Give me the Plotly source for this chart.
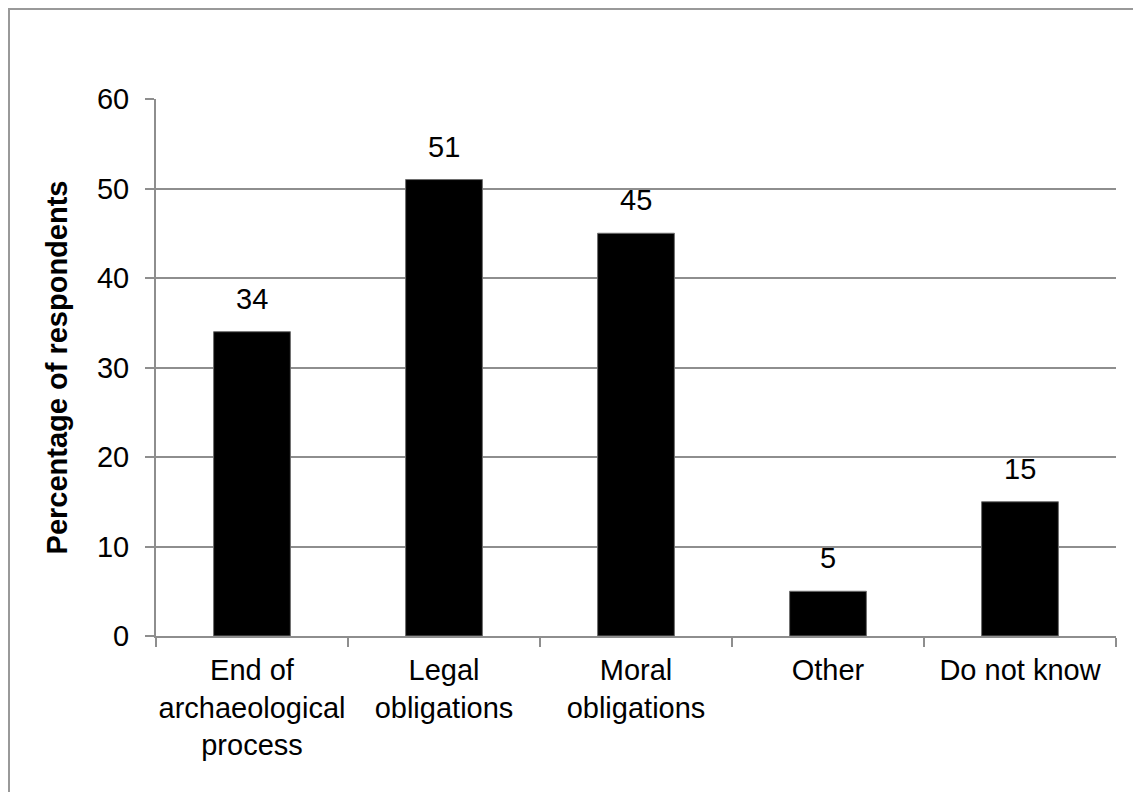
import plotly.graph_objects as go

categories = ['End of<br>archaeological<br>process', 'Legal<br>obligations',
              'Moral<br>obligations', 'Other', 'Do not know']
percentages = [34, 51, 45, 5, 15]
y_ticks = [0, 10, 20, 30, 40, 50, 60]

grid_grey = '#8e8e8e'
font_family = 'Liberation Sans, Arial, sans-serif'

fig = go.Figure()
fig.add_trace(go.Bar(
    x=categories,
    y=percentages,
    width=0.4,
    marker=dict(color='black', line=dict(color='#6e6e6e', width=1)),
    hoverinfo='x+y',
))

# value labels above the bars
for cat, val in zip(categories, percentages):
    fig.add_annotation(
        x=cat, y=val, text=str(val), showarrow=False,
        yanchor='bottom', yshift=15,
        font=dict(size=29, color='black', family=font_family),
    )

# outer chart border (cut off on the right and bottom, as in the source)
fig.add_shape(
    type='rect', xref='paper', yref='paper',
    x0=-147 / 960, x1=1.2, y0=-0.5, y1=627 / 537,
    line=dict(color='#999999', width=2), fillcolor='rgba(0,0,0,0)', layer='below',
)

fig.update_layout(
    width=1125,
    height=784,
    margin=dict(l=148, r=17, t=91, b=156, autoexpand=False),
    paper_bgcolor='white',
    plot_bgcolor='white',
    showlegend=False,
    font=dict(family=font_family, size=29, color='black'),
    xaxis=dict(
        showline=True, linecolor=grid_grey, linewidth=2,
        ticks='outside', tickson='boundaries', ticklen=9,
        tickcolor=grid_grey, tickwidth=2,
        showgrid=False, tickangle=0, automargin=False,
        tickfont=dict(size=29),
        ticklabelstandoff=7,
    ),
    yaxis=dict(
        range=[0, 60], tickvals=y_ticks,
        showline=True, linecolor=grid_grey, linewidth=2,
        ticks='outside', ticklen=9, tickcolor=grid_grey, tickwidth=2,
        showgrid=True, gridcolor=grid_grey, gridwidth=2,
        zeroline=False, automargin=False,
        tickfont=dict(size=29),
        ticklabelstandoff=10,
        title=dict(text='<b>Percentage of respondents</b>',
                   font=dict(size=29), standoff=21),
    ),
)

fig.write_html('out.html')
